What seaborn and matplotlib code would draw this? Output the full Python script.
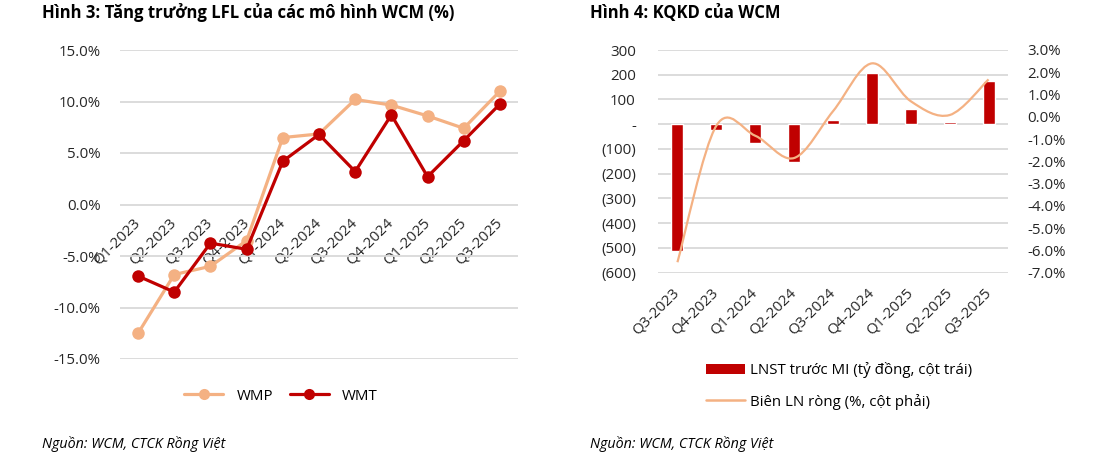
import numpy as np
import pandas as pd
import matplotlib
matplotlib.use("Agg")
import matplotlib.pyplot as plt
from matplotlib.path import Path
from matplotlib.patches import PathPatch
from matplotlib.lines import Line2D
from matplotlib.patches import Patch
from matplotlib.ticker import FuncFormatter, MultipleLocator
import seaborn as sns

# ---------------- data ----------------
quarters_lfl = ["Q1-2023", "Q2-2023", "Q3-2023", "Q4-2023", "Q1-2024", "Q2-2024",
                "Q3-2024", "Q4-2024", "Q1-2025", "Q2-2025", "Q3-2025"]
wmp = [-12.5, -6.8, -6.0, -3.5, 6.5, 6.85, 10.2, 9.65, 8.6, 7.4, 11.0]
wmt = [-6.95, -8.5, -3.75, -4.35, 4.2, 6.8, 3.2, 8.7, 2.7, 6.2, 9.75]

quarters_kq = ["Q3-2023", "Q4-2023", "Q1-2024", "Q2-2024", "Q3-2024",
               "Q4-2024", "Q1-2025", "Q2-2025", "Q3-2025"]
lnst = [-514, -23, -74, -151, 17, 206, 62, 9, 175]
margin = [-6.53, -0.4, -0.85, -1.85, 0.25, 2.40, 0.70, 0.08, 1.68]

title_left = "Hình 3: Tăng trưởng LFL của các mô hình WCM (%)"
title_right = "Hình 4: KQKD của WCM"
source = "Nguồn: WCM, CTCK Rồng Việt"
legend_bar = "LNST trước MI (tỷ đồng, cột trái)"
legend_line = "Biên LN ròng (%, cột phải)"

C_LIGHT = "#F4B183"
C_DARK = "#C00000"
GRID = "#D9D9D9"

sns.set_theme(style="white")
plt.rcParams["font.family"] = ["Open Sans", "DejaVu Sans"]
plt.rcParams["text.color"] = "#000000"

W, H = 1098, 468
fig = plt.figure(figsize=(W / 100, H / 100), dpi=100)

def fx(px):
    return px / W

def fy(py):
    return 1 - py / H

TICK = 10.8

# ---------------- left chart ----------------
axL = fig.add_axes([fx(120), fy(359), fx(518) - fx(120), fy(50) - fy(359)])
df = pd.DataFrame({
    "q": quarters_lfl * 2,
    "v": wmp + wmt,
    "s": ["WMP"] * len(wmp) + ["WMT"] * len(wmt),
})
sns.lineplot(data=df, x="q", y="v", hue="s", palette={"WMP": C_LIGHT, "WMT": C_DARK},
             marker="o", markersize=9, markeredgewidth=0, linewidth=2.3,
             sort=False, ax=axL, legend=False, zorder=3)
axL.set_ylim(-15, 15)
axL.set_xlim(-0.5, len(quarters_lfl) - 0.5)
axL.yaxis.set_major_locator(MultipleLocator(5))
axL.yaxis.set_major_formatter(FuncFormatter(lambda v, p: f"{v:.1f}%"))
axL.grid(axis="y", color=GRID, linewidth=1.3)
axL.grid(axis="x", visible=False)
for s in axL.spines.values():
    s.set_visible(False)
axL.spines["bottom"].set_position(("data", 0))
axL.set_xlabel("")
axL.set_ylabel("")
axL.tick_params(axis="y", length=0, pad=14, labelsize=TICK)
axL.tick_params(axis="x", length=0, pad=12, labelsize=TICK)
for lab in axL.get_xticklabels():
    lab.set_rotation(45)
    lab.set_ha("right")
    lab.set_va("center")
    lab.set_rotation_mode("anchor")

handlesL = [Line2D([], [], color=C_LIGHT, marker="o", markersize=8, markeredgewidth=0, linewidth=2.3),
            Line2D([], [], color=C_DARK, marker="o", markersize=8, markeredgewidth=0, linewidth=2.3)]
fig.legend(handlesL, ["WMP", "WMT"], loc="center", bbox_to_anchor=(fx(281), fy(396)),
           ncol=2, frameon=False, fontsize=TICK, handlelength=2.6, columnspacing=1.1,
           handletextpad=0.9)

# ---------------- right chart ----------------
axR = fig.add_axes([fx(658), fy(272.7), fx(1008) - fx(658), fy(50) - fy(272.7)])
dfb = pd.DataFrame({"q": quarters_kq, "v": lnst})
sns.barplot(data=dfb, x="q", y="v", color=C_DARK, saturation=1, width=0.31, ax=axR, zorder=3)
axR.set_ylim(-600, 300)
axR.set_xlim(-0.5, len(quarters_kq) - 0.5)
axR.yaxis.set_major_locator(MultipleLocator(100))

def lfmt(v, p):
    v = int(round(v))
    if v == 0:
        return "-"
    if v < 0:
        return f"({-v})"
    return f"{v}"

axR.yaxis.set_major_formatter(FuncFormatter(lfmt))
axR.grid(axis="y", color=GRID, linewidth=1.3, zorder=0)
axR.grid(axis="x", visible=False)
axR.set_axisbelow(True)
for s in axR.spines.values():
    s.set_visible(False)
axR.set_xlabel("")
axR.set_ylabel("")
axR.tick_params(axis="y", length=0, pad=16, labelsize=TICK)
axR.tick_params(axis="x", length=0, pad=13, labelsize=TICK)
for lab in axR.get_xticklabels():
    lab.set_rotation(45)
    lab.set_ha("right")
    lab.set_va("center")
    lab.set_rotation_mode("anchor")

ax2 = axR.twinx()
ax2.set_ylim(-7, 3)
ax2.yaxis.set_major_locator(MultipleLocator(1))
ax2.yaxis.set_major_formatter(FuncFormatter(lambda v, p: f"{v:.1f}%"))
for s in ax2.spines.values():
    s.set_visible(False)
ax2.tick_params(axis="y", length=0, pad=14, labelsize=TICK)
ax2.grid(False)

# smoothed line (Catmull-Rom style Bezier through data points)
pts = np.column_stack([np.arange(len(margin)), np.array(margin, dtype=float)])
n = len(pts)
verts = [tuple(pts[0])]
codes = [Path.MOVETO]
for i in range(n - 1):
    p0 = pts[max(i - 1, 0)]
    p1 = pts[i]
    p2 = pts[i + 1]
    p3 = pts[min(i + 2, n - 1)]
    c1 = p1 + (p2 - p0) / 6
    c2 = p2 - (p3 - p1) / 6
    verts += [tuple(c1), tuple(c2), tuple(p2)]
    codes += [Path.CURVE4] * 3
ax2.add_patch(PathPatch(Path(verts, codes), facecolor="none", edgecolor=C_LIGHT,
                        linewidth=1.6, zorder=4))

handlesR = [Patch(facecolor=C_DARK, edgecolor="none"),
            Line2D([], [], color=C_LIGHT, linewidth=1.8)]
fig.legend(handlesR, [legend_bar, legend_line], loc="upper left",
           bbox_to_anchor=(fx(692), fy(349)), ncol=1, frameon=False, fontsize=TICK,
           handlelength=2.6, handleheight=0.6, handletextpad=0.4, labelspacing=1.0)

# ---------------- titles & sources ----------------
fig.text(fx(42), fy(13), title_left, fontsize=12, fontweight="bold", va="center", ha="left")
fig.text(fx(590), fy(13), title_right, fontsize=12, fontweight="bold", va="center", ha="left")
fig.text(fx(42), fy(444), source, fontsize=10.3, style="italic", va="center", ha="left")
fig.text(fx(590), fy(444), source, fontsize=10.3, style="italic", va="center", ha="left")

fig.savefig("out.png", dpi=100)
